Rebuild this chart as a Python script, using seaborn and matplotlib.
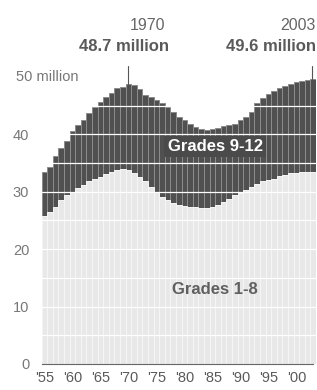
"""
School enrollment by year, 1955-2003 (grades 1-8 and 9-12), newspaper style
"""

import numpy as np
import pandas as pd
import matplotlib
matplotlib.use("Agg")
import matplotlib.pyplot as plt
import seaborn as sns

# ---------------------------------------------------------------------------
# Data (millions of students)
# ---------------------------------------------------------------------------
years = list(range(1955, 2004))
total = [33.5, 34.4, 36.2, 37.7, 38.9, 40.6, 41.6, 42.5, 43.7, 44.7,
         45.7, 46.6, 47.3, 48.0, 48.3, 48.7, 48.6, 47.9, 46.9, 46.6,
         46.0, 45.4, 44.8, 43.9, 43.1, 42.5, 41.9, 41.3, 40.9, 40.7,
         41.0, 41.2, 41.4, 41.6, 41.9, 42.5, 43.1, 43.9, 45.4, 46.4,
         47.0, 47.6, 48.1, 48.5, 48.8, 49.1, 49.3, 49.5, 49.6]
grades_1_8 = [25.7, 26.5, 27.4, 28.6, 29.4, 30.0, 30.6, 31.2, 31.8, 32.2,
              32.6, 33.1, 33.5, 33.8, 34.0, 33.8, 33.3, 32.6, 31.8, 30.9,
              30.0, 29.1, 28.6, 28.1, 27.7, 27.5, 27.4, 27.3, 27.1, 27.1,
              27.4, 27.7, 28.2, 28.8, 29.4, 29.8, 30.4, 30.9, 31.3, 31.8,
              32.1, 32.3, 32.8, 32.9, 33.2, 33.3, 33.5, 33.5, 33.5]
xtick_years = [1955, 1960, 1965, 1970, 1975, 1980, 1985, 1990, 1995, 2000]
xtick_labels = ["'55", "'60", "'65", "'70", "'75", "'80", "'85", "'90", "'95", "'00"]
ytick_values = [0, 10, 20, 30, 40]

df = pd.DataFrame({"year": [str(y) for y in years],
                   "total": total, "grades_1_8": grades_1_8})

# ---------------------------------------------------------------------------
# Figure
# ---------------------------------------------------------------------------
sns.set_style("white")
plt.rcParams["font.family"] = ["Liberation Sans", "DejaVu Sans"]

DARK = "#505050"
LIGHT = "#e8e8e8"
TXT = "#5a5a5a"

fig = plt.figure(figsize=(3.17, 3.90), dpi=100)
ax = fig.add_axes([0.1315, 0.0667, 0.8656, 0.883])

sns.barplot(data=df, x="year", y="total", color=DARK, width=1.0,
            edgecolor="#8c8c8c", linewidth=0.7, saturation=1, ax=ax)
sns.barplot(data=df, x="year", y="grades_1_8", color=LIGHT, width=1.0,
            edgecolor="#f6f6f6", linewidth=0.7, saturation=1, ax=ax)

ax.set_xlim(-0.5, len(years) - 0.5)
ax.set_ylim(0, 60)

# white gridlines every 5 million across the bars
for v in np.arange(5, 55, 5):
    ax.axhline(v, color="white", lw=0.9, zorder=3)

sns.despine(ax=ax, left=True, top=True, right=True)
ax.spines["bottom"].set_color("#666666")
ax.spines["bottom"].set_linewidth(0.8)
ax.spines["bottom"].set_bounds(-0.5, len(years) - 1)

ax.set_xticks([years.index(y) for y in xtick_years])
ax.set_xticklabels(xtick_labels, fontsize=10.5, color=TXT)
ax.tick_params(axis="x", direction="out", length=3, width=0.8,
               color="#666666", pad=2)
ax.set_yticks(ytick_values)
ax.set_yticklabels([str(v) for v in ytick_values], fontsize=10.5, color="#777777")
ax.tick_params(axis="y", length=0, pad=9)
ax.set_xlabel("")
ax.set_ylabel("")
ax.text(-0.095, 50, "50 million", transform=ax.get_yaxis_transform(),
        fontsize=10.5, color="#777777", ha="left", va="center")

# peak annotations
i70 = years.index(1970)
i03 = years.index(2003)
ax.plot([i70, i70], [total[i70], 52.0], color="#555555", lw=0.8, zorder=4)
ax.plot([i03 - 0.3, i03 - 0.3], [total[i03], 52.0], color="#555555", lw=0.8,
        zorder=4, clip_on=False)
ax.text(i70 + 3.4, 57.6, "1970", ha="center", va="bottom", fontsize=11.5,
        color="#666666", clip_on=False)
ax.text(i70 + 7.2, 54.0, "48.7 million", ha="right", va="bottom",
        fontsize=12, fontweight="bold", color=TXT, clip_on=False)
ax.text(i03 + 0.4, 57.6, "2003", ha="right", va="bottom", fontsize=11.5,
        color="#666666", clip_on=False)
ax.text(i03 + 0.4, 54.0, "49.6 million", ha="right", va="bottom",
        fontsize=12, fontweight="bold", color=TXT, clip_on=False)

# series labels
ax.text(years.index(1986) - 0.5, 37.9, "Grades 9-12", ha="center", va="center",
        fontsize=12, fontweight="bold", color="white", zorder=5,
        bbox=dict(boxstyle="square,pad=0.2", fc="#4a4a4a", ec="none"))
ax.text(years.index(1985) + 0.5, 13.0, "Grades 1-8", ha="center", va="center",
        fontsize=12, fontweight="bold", color="#606060", zorder=5)

plt.savefig("out.png", dpi=100)
plt.close()
